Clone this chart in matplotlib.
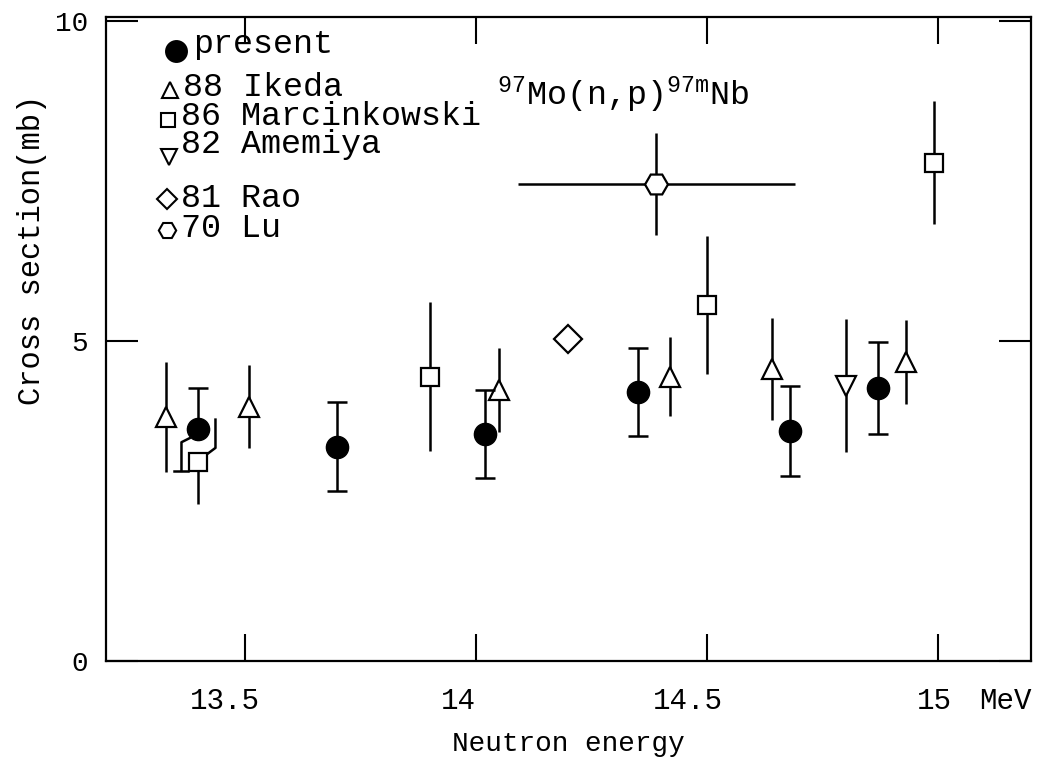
import matplotlib
matplotlib.use('Agg')
import matplotlib.pyplot as plt
from matplotlib.transforms import ScaledTranslation

plt.rcParams['font.family'] = ['Liberation Mono', 'DejaVu Sans']
plt.rcParams['mathtext.fontset'] = 'custom'
plt.rcParams['mathtext.rm'] = 'Liberation Mono'
plt.rcParams['mathtext.it'] = 'Liberation Mono'
plt.rcParams['mathtext.bf'] = 'Liberation Mono'

# ---------------- data ----------------
present_x = [13.40, 13.70, 14.02, 14.35, 14.68, 14.87]
present_y = [3.62, 3.35, 3.55, 4.20, 3.59, 4.27]
present_err = [0.65, 0.69, 0.69, 0.69, 0.70, 0.72]

ikeda_x = [13.33, 13.51, 14.05, 14.42, 14.64, 14.93]
ikeda_y = [3.81, 3.97, 4.23, 4.44, 4.56, 4.67]
ikeda_err = [0.86, 0.65, 0.66, 0.62, 0.79, 0.66]

marc_x = [13.40, 13.90, 14.50, 14.99]
marc_y = [3.11, 4.44, 5.56, 7.78]
marc_err = [0.66, 1.16, 1.08, 0.96]

amemiya_x = [14.80]
amemiya_y = [4.30]
amemiya_err = [1.04]

rao_x = [14.20]
rao_y = [5.03]

lu_x = [14.39]
lu_y = [7.45]
lu_yerr = [0.80]
lu_xerr = [0.30]

xticks = [13.5, 14.0, 14.5, 15.0]
xticklabels = ['13.5', '14', '14.5', '15']
yticks = [0, 5, 10]
yticklabels = ['0', '5', '10']

legend_labels = ['present', '88 Ikeda', '86 Marcinkowski', '82 Amemiya', '81 Rao', '70 Lu']

# ---------------- figure ----------------
DPI = 100
fig = plt.figure(figsize=(10.4, 7.6), dpi=DPI)
ax = fig.add_axes([0.1019, 0.1303, 0.8894, 0.8474])
ax.set_xlim(13.2, 15.2)
ax.set_ylim(0, 10.06)

lw = 1.8
mew = 1.6

# the first "present" point and first Marcinkowski point overlap: in the original
# their lower / upper bars are drawn displaced sideways
p_lower = list(present_err)
p_lower[0] = 0.0
m_upper = list(marc_err)
m_upper[0] = 0.0

ax.errorbar(present_x, present_y, yerr=[p_lower, present_err], fmt='o', ms=16, color='k',
            ecolor='k', elinewidth=lw, capsize=7.5, capthick=lw, zorder=4)
ax.errorbar(ikeda_x, ikeda_y, yerr=ikeda_err, fmt='^', ms=15, mfc='white', mec='k',
            mew=mew, ecolor='k', elinewidth=lw, capsize=0, zorder=3)
ax.errorbar(marc_x, marc_y, yerr=[marc_err, m_upper], fmt='s', ms=13.5, mfc='white', mec='k',
            mew=mew, ecolor='k', elinewidth=lw, capsize=0, zorder=3)
ax.errorbar(amemiya_x, amemiya_y, yerr=amemiya_err, fmt='v', ms=15, mfc='white', mec='k',
            mew=mew, ecolor='k', elinewidth=lw, capsize=0, zorder=3)
ax.plot(rao_x, rao_y, 'D', ms=14, mfc='white', mec='k', mew=mew, zorder=3)
ax.errorbar(lu_x, lu_y, yerr=lu_yerr, xerr=lu_xerr, fmt='H', ms=16.5, mfc='white', mec='k',
            mew=mew, ecolor='k', elinewidth=lw, capsize=0, zorder=3)

# displaced bars (offsets in pixels)
def disp_to_data(px, py):
    return ax.transData.inverted().transform((px, py))

x0, y0 = ax.transData.transform((present_x[0], present_y[0]))
_, ylo = ax.transData.transform((present_x[0], present_y[0] - present_err[0]))
pts = [disp_to_data(x0 - 9, y0 - 9), disp_to_data(x0 - 17, y0 - 13), disp_to_data(x0 - 17, ylo)]
ax.plot([p[0] for p in pts], [p[1] for p in pts], color='k', lw=lw, zorder=2)
c1 = disp_to_data(x0 - 24, ylo)
c2 = disp_to_data(x0 - 10, ylo)
ax.plot([c1[0], c2[0]], [c1[1], c2[1]], color='k', lw=lw, zorder=2)

x1, y1 = ax.transData.transform((marc_x[0], marc_y[0]))
_, yhi = ax.transData.transform((marc_x[0], marc_y[0] + marc_err[0]))
pts = [disp_to_data(x1 + 9, y1 + 8), disp_to_data(x1 + 17, y1 + 14), disp_to_data(x1 + 17, yhi)]
ax.plot([p[0] for p in pts], [p[1] for p in pts], color='k', lw=lw, zorder=2)

# axes / ticks
ax.set_xticks(xticks)
ax.set_xticklabels(xticklabels, fontsize=21)
ax.set_yticks(yticks)
ax.set_yticklabels(yticklabels, fontsize=20)
ax.tick_params(axis='x', direction='in', length=19.5, width=1.5, top=True, bottom=True, pad=19)
ax.tick_params(axis='y', direction='in', length=23, width=1.5, left=True, right=True, pad=13)
for s in ax.spines.values():
    s.set_linewidth(1.6)

label_dx_px = [-20, -18, -19, -4]
for lab, dx in zip(ax.get_xticklabels(), label_dx_px):
    lab.set_transform(lab.get_transform() + ScaledTranslation(dx / DPI, 0, fig.dpi_scale_trans))

ax.set_xlabel('Neutron energy', fontsize=20, labelpad=11)
ax.set_ylabel('Cross section(mb)', fontsize=22)
ax.yaxis.set_label_coords(-0.064, 0.638)

ax.text(1.0 - 0.028, -0.062, 'MeV', transform=ax.transAxes, fontsize=21, ha='center', va='center')

ax.text(0.4227, 0.8634, r'$^{97}$Mo(n,p)$^{97\mathrm{m}}$Nb', transform=ax.transAxes,
        fontsize=24, ha='left', va='baseline')

# manual legend
leg_markers = [dict(marker='o', ms=15, mfc='k', mec='k'),
               dict(marker='^', ms=11.5, mfc='white', mec='k'),
               dict(marker='s', ms=10.5, mfc='white', mec='k'),
               dict(marker='v', ms=11.5, mfc='white', mec='k'),
               dict(marker='D', ms=10, mfc='white', mec='k'),
               dict(marker='H', ms=12.5, mfc='white', mec='k')]
mk_pos = [(0.0757, 0.9470), (0.0692, 0.8866), (0.0670, 0.8401), (0.0681, 0.7826),
          (0.0659, 0.7174), (0.0659, 0.6693)]
tx_pos = [(0.0941, 0.9565), (0.0832, 0.8898), (0.0811, 0.8447), (0.0811, 0.8012),
          (0.0811, 0.7174), (0.0811, 0.6708)]
for mk, (mx, my), (tx, ty), lab in zip(leg_markers, mk_pos, tx_pos, legend_labels):
    ax.plot([mx], [my], transform=ax.transAxes, ls='none', mew=1.5, clip_on=False, **mk)
    ax.text(tx, ty, lab, transform=ax.transAxes, fontsize=24, ha='left', va='center')

fig.savefig('out.png', dpi=DPI)
